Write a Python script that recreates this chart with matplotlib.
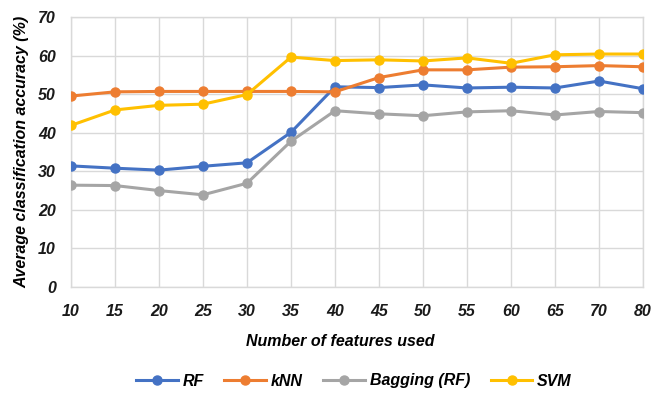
import matplotlib
matplotlib.use("Agg")
import matplotlib.pyplot as plt

features = ["10", "15", "20", "25", "30", "35", "40", "45", "50", "55", "60", "65", "70", "80"]
rf = [31.4, 30.8, 30.3, 31.3, 32.2, 40.1, 51.9, 51.7, 52.4, 51.6, 51.8, 51.6, 53.4, 51.4]
knn = [49.5, 50.6, 50.7, 50.7, 50.7, 50.7, 50.6, 54.3, 56.3, 56.3, 57.0, 57.1, 57.4, 57.1]
bagging = [26.4, 26.3, 25.0, 23.9, 26.9, 37.8, 45.7, 44.9, 44.4, 45.4, 45.7, 44.6, 45.5, 45.2]
svm = [41.9, 45.9, 47.1, 47.4, 49.9, 59.6, 58.7, 58.9, 58.6, 59.4, 58.0, 60.2, 60.4, 60.4]

series = [("RF", rf, "#4472C4"), ("kNN", knn, "#ED7D31"),
          ("Bagging (RF)", bagging, "#A5A5A5"), ("SVM", svm, "#FFC000")]

plt.rcParams['font.family'] = ['Liberation Sans', 'DejaVu Sans']
fig = plt.figure(figsize=(6.54, 3.93), dpi=100)
ax = fig.add_axes([71/654, 1-287/393, (643-71)/654, (287-17)/393])

x = list(range(len(features)))
for name, vals, col in series:
    ax.plot(x, vals, color=col, lw=2.2, marker='o', ms=6.5, label=name, zorder=3)

ax.set_xlim(0, len(features)-1)
ax.set_ylim(0, 70)
ax.set_yticks(range(0, 71, 10))
ax.set_xticks(x)
ax.set_xticklabels(features)
ax.grid(True, color="#D9D9D9", lw=1.0, zorder=0)
for s in ax.spines.values():
    s.set_color("#D9D9D9")
    s.set_linewidth(1.0)
ax.tick_params(length=0, labelsize=11.5)
ax.tick_params(axis='x', pad=12)
ax.tick_params(axis='y', pad=11)
for lab in ax.get_xticklabels() + ax.get_yticklabels():
    lab.set_fontweight('bold')
    lab.set_fontstyle('italic')
    lab.set_color('#1a1a1a')

ax.set_xlabel("Number of features used", fontsize=11.5, fontweight='bold', fontstyle='italic')
ax.xaxis.set_label_coords((340-71)/572, -(342-287)/270)
ax.xaxis.label.set_va('center')
ax.set_ylabel("Average classification accuracy (%)", fontsize=11.5, fontweight='bold', fontstyle='italic', labelpad=6)

fig.legend(loc='center', bbox_to_anchor=(354/654, 1-381/393), ncol=4, frameon=False,
           prop={'weight': 'bold', 'style': 'italic', 'size': 11.5},
           handlelength=2.6, columnspacing=1.3, handletextpad=0.3)

fig.savefig("out.png", dpi=100)
